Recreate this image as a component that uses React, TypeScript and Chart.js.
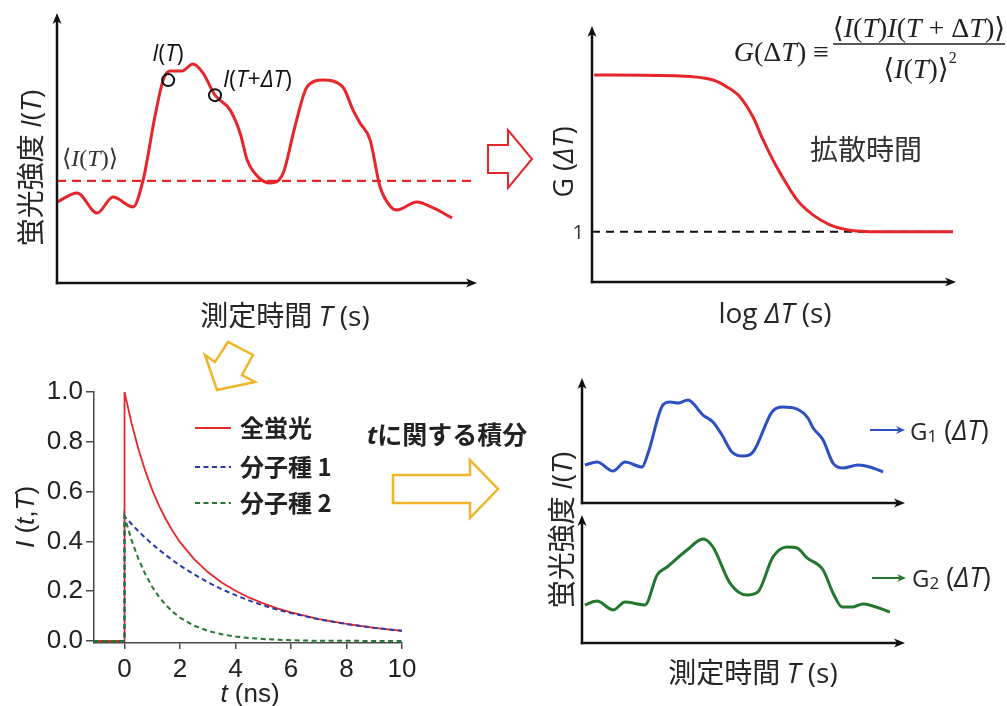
import React, { useEffect, useRef } from 'react';
import { Chart, registerables } from 'chart.js';

Chart.register(...registerables);

const W = 1007;
const H = 706;

// ---------- Panel A: fluorescence trace I(T) ----------
const traceT = [0, 4.8, 9.6, 13.4, 18.2, 20.6, 23.4, 25.4, 27.0, 29.9, 32.5, 34.9, 37.8, 41.4, 43.8, 45.5, 48.1, 51.0, 54.1, 56.9, 59.8, 63.6, 68.4, 70.8, 72.5, 74.9, 77.3, 79.7, 81.3, 86.1, 90.0, 94.5];
const traceI = [30.2, 33.6, 26.1, 32.1, 28.4, 38.4, 61.9, 75.7, 79.1, 79.1, 81.7, 78.4, 70.1, 64.6, 56.0, 45.9, 39.6, 37.3, 41.0, 58.2, 73.1, 75.7, 73.1, 64.6, 59.7, 53.4, 35.8, 28.7, 27.2, 30.2, 28.0, 24.3];
const meanI = 38.1;
const markT = [26.6, 37.8];
const markI = [75.7, 70.1];

// ---------- Panel B: autocorrelation G(ΔT) ----------
const logDT = [0.06, 2.44, 3.35, 3.74, 4.10, 4.46, 4.74, 5.01, 5.21, 5.68, 6.12, 6.59, 7.06, 7.98, 10.0];
const gVals = [2.0, 1.994, 1.968, 1.924, 1.86, 1.732, 1.586, 1.459, 1.376, 1.204, 1.108, 1.045, 1.013, 1.0, 1.0];
const gBaseline = 1;

// ---------- Panel C: fluorescence decay I(t,T) ----------
const decayT = [-1.1, 0, 0, 0.25, 0.5, 0.75, 1, 1.25, 1.5, 1.75, 2, 2.5, 3, 3.5, 4, 4.5, 5, 5.5, 6, 7, 8, 9, 10];
const totalI = [0, 0, 1.0, 0.876, 0.771, 0.682, 0.606, 0.542, 0.487, 0.439, 0.397, 0.330, 0.277, 0.235, 0.202, 0.174, 0.151, 0.131, 0.115, 0.088, 0.069, 0.053, 0.041];
const species1 = [0, 0, 0.5, 0.470, 0.441, 0.414, 0.389, 0.366, 0.344, 0.323, 0.303, 0.268, 0.236, 0.208, 0.184, 0.162, 0.143, 0.126, 0.112, 0.087, 0.068, 0.053, 0.041];
const species2 = [0, 0, 0.5, 0.406, 0.330, 0.268, 0.217, 0.176, 0.143, 0.116, 0.094, 0.062, 0.041, 0.027, 0.018, 0.012, 0.008, 0.005, 0.003, 0.001, 0.001, 0.0, 0.0];
const decayXTicks = [0, 2, 4, 6, 8, 10];
const decayYTicks = [0, 0.2, 0.4, 0.6, 0.8, 1.0];
const legendLabels = ['全蛍光', '分子種 1', '分子種 2'];

// ---------- Panel D: separated traces ----------
const trace1T = [0.9, 4.7, 9.7, 13.4, 18.7, 20.6, 25.2, 27.4, 29.9, 33.0, 37.7, 40.8, 43.6, 46.7, 50.2, 53.3, 59.2, 62.6, 67.0, 70.4, 72.0, 75.1, 78.2, 81.3, 86.0, 89.7, 93.8];
const trace1I = [30.9, 33.3, 26.0, 33.3, 29.3, 40.7, 79.7, 82.1, 81.3, 83.7, 71.5, 65.9, 55.3, 41.5, 38.2, 41.5, 74.0, 78.0, 76.4, 69.1, 61.0, 51.2, 32.5, 28.5, 30.9, 29.3, 25.2];
const trace2T = [0.9, 4.7, 9.7, 13.4, 19.6, 23.4, 26.5, 32.7, 37.7, 40.8, 46.1, 51.4, 54.8, 59.5, 63.9, 67.0, 70.1, 75.1, 78.2, 81.0, 84.4, 87.5, 95.9];
const trace2I = [30.2, 33.3, 26.2, 32.5, 30.2, 54.0, 60.3, 73.8, 82.5, 76.2, 47.6, 38.1, 40.5, 68.3, 76.2, 75.4, 67.5, 57.9, 39.7, 28.6, 28.6, 31.0, 24.6];

// ---------- styles ----------
const RED = '#e5262b';
const BLUE = '#2d50c2';
const DBLUE = '#2b3aa6';
const GREEN = '#23772f';
const YELLOW = '#f0b428';
const INK = '#262626';
const AXC = '#4a4a4a';
const SANS = '"Open Sans", "Noto Sans CJK JP", sans-serif';
const CJK = '"Noto Sans CJK JP", "Open Sans", sans-serif';
const SERIF = '"Liberation Serif", "DejaVu Serif", serif';
const ARIAL = '"Liberation Sans", Arial, sans-serif';

type Seg = { t: string; f: string; dy?: number };

function drawRich(ctx: CanvasRenderingContext2D, segs: Seg[], x: number, y: number, align: 'left' | 'center' | 'right' = 'left', color = INK, rot = 0) {
  ctx.save();
  ctx.translate(x, y);
  if (rot) ctx.rotate(rot);
  ctx.fillStyle = color;
  ctx.textBaseline = 'alphabetic';
  ctx.textAlign = 'left';
  let total = 0;
  const widths = segs.map((s) => {
    ctx.font = s.f;
    const w = ctx.measureText(s.t).width;
    total += w;
    return w;
  });
  let cx = align === 'left' ? 0 : align === 'center' ? -total / 2 : -total;
  segs.forEach((s, i) => {
    ctx.font = s.f;
    ctx.fillText(s.t, cx, s.dy || 0);
    cx += widths[i];
  });
  ctx.restore();
}

function axisArrow(ctx: CanvasRenderingContext2D, x1: number, y1: number, x2: number, y2: number, lw = 2.5, color = '#111', hl = 11, hw = 4.5) {
  const a = Math.atan2(y2 - y1, x2 - x1);
  const c = Math.cos(a), s = Math.sin(a);
  const bx = x2 - hl * c, by = y2 - hl * s;
  ctx.save();
  ctx.strokeStyle = color;
  ctx.fillStyle = color;
  ctx.lineWidth = lw;
  ctx.lineCap = 'butt';
  ctx.beginPath();
  ctx.moveTo(x1, y1);
  ctx.lineTo(bx + 3 * c, by + 3 * s);
  ctx.stroke();
  ctx.beginPath();
  ctx.moveTo(x2, y2);
  ctx.lineTo(bx - hw * s, by + hw * c);
  ctx.lineTo(bx + 3 * c, by + 3 * s);
  ctx.lineTo(bx + hw * s, by - hw * c);
  ctx.closePath();
  ctx.fill();
  ctx.restore();
}

function hollow(ctx: CanvasRenderingContext2D, pts: number[][], color: string, lw: number) {
  ctx.save();
  ctx.beginPath();
  pts.forEach((p, i) => (i ? ctx.lineTo(p[0], p[1]) : ctx.moveTo(p[0], p[1])));
  ctx.closePath();
  ctx.fillStyle = '#fff';
  ctx.fill();
  ctx.strokeStyle = color;
  ctx.lineWidth = lw;
  ctx.lineJoin = 'miter';
  ctx.stroke();
  ctx.restore();
}

function cornerAxes(chart: any, right: number, top: number) {
  const ctx = chart.ctx;
  const a = chart.chartArea;
  axisArrow(ctx, a.left, a.bottom + 1.25, a.left, top);
  axisArrow(ctx, a.left - 1.25, a.bottom, right, a.bottom);
}

const lab = (size: number, parts: [string, number][]) =>
  parts.map(([t, k]) => ({ t, f: `${k === 1 ? 'italic ' : k === 2 ? 'bold ' : k === 3 ? 'italic bold ' : ''}${size}px ${SANS}` }));
const cjkLab = (size: number, t: string, bold = false): Seg => ({ t, f: `${bold ? 'bold ' : ''}${size}px ${CJK}` });

function baseOptions(l: number, t: number, r: number, b: number, xmin: number, xmax: number, ymin: number, ymax: number) {
  return {
    responsive: false,
    animation: false as const,
    devicePixelRatio: 1,
    events: [] as any[],
    layout: { padding: { left: l, top: t, right: W - r, bottom: H - b } },
    plugins: { legend: { display: false }, tooltip: { enabled: false } },
    scales: {
      x: { type: 'linear' as const, display: false, min: xmin, max: xmax },
      y: { type: 'linear' as const, display: false, min: ymin, max: ymax },
    },
  };
}

const pts = (xs: number[], ys: number[]) => xs.map((x, i) => ({ x, y: ys[i] }));

const timeLabel = (size: number) => [cjkLab(size, '測定時間 '), ...lab(size, [['T', 1], [' (s)', 0]])];
const intensityLabel = (size: number) => [cjkLab(size, '蛍光強度 '), ...lab(size, [['I', 1], ['(', 0], ['T', 1], [')', 0]])];

function configA(): any {
  return {
    type: 'line',
    data: {
      datasets: [
        { data: pts(markT, markI), showLine: false, pointRadius: 6, pointBorderWidth: 2, pointBorderColor: '#111', pointBackgroundColor: 'rgba(0,0,0,0)', order: 0 },
        { data: pts(traceT, traceI), borderColor: RED, borderWidth: 3, pointRadius: 0, cubicInterpolationMode: 'monotone', order: 1, clip: false },
        { data: [{ x: 0, y: meanI }, { x: 100, y: meanI }], borderColor: RED, borderWidth: 2.2, borderDash: [9, 6], pointRadius: 0, order: 2 },
      ],
    },
    options: baseOptions(57, 15, 475, 283, 0, 100, 0, 100),
    plugins: [{
      id: 'decoA',
      afterDraw(chart: any) {
        const ctx = chart.ctx;
        const a = chart.chartArea;
        const xs = chart.scales.x, ys = chart.scales.y;
        cornerAxes(chart, 477, 13);
        drawRich(ctx, intensityLabel(28), 41, 168, 'center', INK, -Math.PI / 2);
        drawRich(ctx, timeLabel(28), 285, 326, 'center');
        const my = ys.getPixelForValue(meanI);
        const sf = (k: number) => `${k ? 'italic ' : ''}24px ${SERIF}`;
        drawRich(ctx, [{ t: '⟨', f: sf(0) }, { t: 'I', f: sf(1) }, { t: '(', f: sf(0) }, { t: 'T', f: sf(1) }, { t: ')', f: sf(0) }, { t: '⟩', f: sf(0) }], a.left + 5, my - 15, 'left', '#333');
        const p1x = xs.getPixelForValue(markT[0]), p1y = ys.getPixelForValue(markI[0]);
        const p2x = xs.getPixelForValue(markT[1]), p2y = ys.getPixelForValue(markI[1]);
        drawRich(ctx, lab(23, [['I', 1], ['(', 0], ['T', 1], [')', 0]]), p1x - 16, p1y - 19, 'left', '#111');
        drawRich(ctx, lab(23, [['I', 1], ['(', 0], ['T', 1], ['+', 0], ['Δ', 1], ['T', 1], [')', 0]]), p2x + 8, p2y - 8, 'left', '#111');
      },
    }],
  };
}

function configB(): any {
  return {
    type: 'line',
    data: {
      datasets: [
        { data: pts(logDT, gVals), borderColor: RED, borderWidth: 3, pointRadius: 0, cubicInterpolationMode: 'monotone', order: 0, clip: false },
        { data: [{ x: 0, y: gBaseline }, { x: 10, y: gBaseline }], borderColor: '#111', borderWidth: 2, borderDash: [8, 6], pointRadius: 0, order: 1 },
      ],
    },
    options: baseOptions(592, 28, 953, 282, 0, 10, 0.68, 2.3),
    plugins: [{
      id: 'decoB',
      afterDraw(chart: any) {
        const ctx = chart.ctx;
        const ys = chart.scales.y;
        cornerAxes(chart, 956, 26);
        const y1 = ys.getPixelForValue(gBaseline);
        drawRich(ctx, [{ t: '1', f: `20px ${SANS}` }], 584, y1 + 7, 'right', '#333');
        drawRich(ctx, lab(27, [['G (', 0], ['Δ', 1], ['T', 1], [')', 0]]), 573, 162, 'center', INK, -Math.PI / 2);
        drawRich(ctx, lab(28, [['log ', 0], ['Δ', 1], ['T', 1], [' (s)', 0]]), 775, 323, 'center');
        drawRich(ctx, [cjkLab(28, '拡散時間')], 810, 160, 'left', '#333');
        // formula
        const f = (k: number, s = 28) => `${k ? 'italic ' : ''}${s}px ${SERIF}`;
        drawRich(ctx, [{ t: 'G', f: f(1) }, { t: '(Δ', f: f(0) }, { t: 'T', f: f(1) }, { t: ') ≡', f: f(0) }], 829, 61, 'right', '#222');
        drawRich(ctx, [{ t: '⟨', f: f(0) }, { t: 'I', f: f(1) }, { t: '(', f: f(0) }, { t: 'T', f: f(1) }, { t: ')', f: f(0) }, { t: 'I', f: f(1) }, { t: '(', f: f(0) }, { t: 'T', f: f(1) }, { t: ' + Δ', f: f(0) }, { t: 'T', f: f(1) }, { t: ')⟩', f: f(0) }], 919, 37, 'center', '#222');
        ctx.save();
        ctx.strokeStyle = '#222';
        ctx.lineWidth = 1.5;
        ctx.beginPath();
        ctx.moveTo(833, 44);
        ctx.lineTo(1005, 44);
        ctx.stroke();
        ctx.restore();
        drawRich(ctx, [{ t: '⟨', f: f(0) }, { t: 'I', f: f(1) }, { t: '(', f: f(0) }, { t: 'T', f: f(1) }, { t: ')⟩', f: f(0) }, { t: '2', f: f(0, 16), dy: -15 }], 920, 78, 'center', '#222');
        // red hollow arrow
        hollow(ctx, [[488, 145], [508, 145], [508, 130], [532, 159], [508, 188], [508, 173], [488, 173]], RED, 2);
      },
    }],
  };
}

function configC(): any {
  const tickFont = { family: ARIAL, size: 26 };
  const common = {
    type: 'linear' as const,
    grid: { display: true, drawOnChartArea: false, drawTicks: true, color: AXC, lineWidth: 1.5 },
    border: { display: true, color: AXC, width: 1.5 },
  };
  return {
    type: 'line',
    data: {
      datasets: [
        { label: legendLabels[0], data: pts(decayT, totalI), borderColor: RED, borderWidth: 1.8, pointRadius: 0, tension: 0, order: 2 },
        { label: legendLabels[1], data: pts(decayT, species1), borderColor: DBLUE, borderWidth: 2, borderDash: [5, 3.5], pointRadius: 0, tension: 0, order: 1 },
        { label: legendLabels[2], data: pts(decayT, species2), borderColor: GREEN, borderWidth: 2, borderDash: [5, 3.5], pointRadius: 0, tension: 0, order: 0 },
      ],
    },
    options: {
      responsive: false,
      animation: false,
      devicePixelRatio: 1,
      events: [],
      layout: { padding: { left: 0, top: 392, right: W - 402, bottom: 0 } },
      plugins: { legend: { display: false }, tooltip: { enabled: false } },
      scales: {
        x: {
          ...common,
          min: -1.1,
          max: 10,
          grid: { ...common.grid, tickLength: 6 },
          afterBuildTicks: (ax: any) => { ax.ticks = decayXTicks.map((v) => ({ value: v })); },
          afterFit: (s: any) => { s.height = H - 643; },
          ticks: { font: tickFont, color: '#222', padding: 5, maxRotation: 0, autoSkip: false, callback: (v: any) => String(v) },
        },
        y: {
          ...common,
          min: -0.008,
          max: 1.0,
          grid: { ...common.grid, tickLength: 8 },
          afterBuildTicks: (ax: any) => { ax.ticks = decayYTicks.map((v) => ({ value: v })); },
          afterFit: (s: any) => { s.width = 94; },
          ticks: { font: tickFont, color: '#222', padding: 3, autoSkip: false, callback: (v: any) => Number(v).toFixed(1) },
        },
      },
    },
    plugins: [{
      id: 'decoC',
      afterDraw(chart: any) {
        const ctx = chart.ctx;
        const af = (k: number) => `${k ? 'italic ' : ''}26px ${ARIAL}`;
        drawRich(ctx, [{ t: 'I', f: af(1) }, { t: ' (', f: af(0) }, { t: 't', f: af(1) }, { t: ',', f: af(0) }, { t: 'T', f: af(1) }, { t: ')', f: af(0) }], 34, 517, 'center', '#222', -Math.PI / 2);
        drawRich(ctx, [{ t: 't', f: af(1) }, { t: ' (ns)', f: af(0) }], 250, 702, 'center', '#222');
        // legend
        const rows = [428, 467, 503];
        chart.data.datasets.forEach((ds: any, i: number) => {
          const y = rows[i];
          ctx.save();
          ctx.strokeStyle = ds.borderColor;
          ctx.lineWidth = 2;
          ctx.setLineDash(ds.borderDash || []);
          ctx.beginPath();
          ctx.moveTo(195, y);
          ctx.lineTo(231, y);
          ctx.stroke();
          ctx.restore();
          drawRich(ctx, [{ t: ds.label, f: `bold 24px ${CJK}` }], 240, y + 9, 'left', '#222');
        });
        // yellow arrows and integration text
        hollow(ctx, [[205, 355], [215, 362], [228, 342], [253, 355], [242, 375], [255, 382], [217, 390]], YELLOW, 2.5);
        hollow(ctx, [[393, 475], [470, 475], [470, 460], [498, 489], [470, 518], [470, 503], [393, 503]], YELLOW, 2.5);
        drawRich(ctx, [{ t: 't', f: `italic bold 25px ${SANS}` }, { t: 'に関する積分', f: `bold 25px ${CJK}` }], 367, 444, 'left', '#222');
      },
    }],
  };
}

const gLabel = (sub: string) => [
  { t: 'G', f: `24px ${SANS}` },
  { t: sub, f: `17px ${SANS}`, dy: 2 },
  ...lab(27, [[' (', 0], ['Δ', 1], ['T', 1], [')', 0]]),
];

function configD1(): any {
  return {
    type: 'line',
    data: { datasets: [{ data: pts(trace1T, trace1I), borderColor: BLUE, borderWidth: 3, pointRadius: 0, cubicInterpolationMode: 'monotone', clip: false }] },
    options: baseOptions(582, 380, 903, 503, 0, 100, 0, 100),
    plugins: [{
      id: 'decoD1',
      afterDraw(chart: any) {
        cornerAxes(chart, 905, 378);
        axisArrow(chart.ctx, 870, 430, 905, 430, 2, BLUE, 9, 4);
        drawRich(chart.ctx, gLabel('1'), 910, 440, 'left', INK);
      },
    }],
  };
}

function configD2(): any {
  return {
    type: 'line',
    data: { datasets: [{ data: pts(trace2T, trace2I), borderColor: GREEN, borderWidth: 3, pointRadius: 0, cubicInterpolationMode: 'monotone', clip: false }] },
    options: baseOptions(582, 517, 903, 643, 0, 100, 0, 100),
    plugins: [{
      id: 'decoD2',
      afterDraw(chart: any) {
        const ctx = chart.ctx;
        cornerAxes(chart, 905, 515);
        axisArrow(ctx, 872, 578, 906, 578, 2, GREEN, 9, 4);
        drawRich(ctx, gLabel('2'), 912, 587, 'left', INK);
        drawRich(ctx, intensityLabel(28), 572, 530, 'center', INK, -Math.PI / 2);
        drawRich(ctx, timeLabel(28), 753, 683, 'center');
      },
    }],
  };
}

export default function App() {
  const r1 = useRef<HTMLCanvasElement>(null);
  const r2 = useRef<HTMLCanvasElement>(null);
  const r3 = useRef<HTMLCanvasElement>(null);
  const r4 = useRef<HTMLCanvasElement>(null);
  const r5 = useRef<HTMLCanvasElement>(null);
  const refs = [r1, r2, r3, r4, r5];

  useEffect(() => {
    const makers = [configA, configB, configC, configD1, configD2];
    const charts = refs.map((r, i) => new Chart(r.current as HTMLCanvasElement, makers[i]()));
    return () => charts.forEach((c) => c.destroy());
  }, []);

  return (
    <div style={{ position: 'absolute', left: 0, top: 0, width: W, height: H, background: '#fff', overflow: 'hidden' }}>
      {refs.map((r, i) => (
        <canvas key={i} ref={r} width={W} height={H} style={{ position: 'absolute', left: 0, top: 0, width: W, height: H }} />
      ))}
    </div>
  );
}
